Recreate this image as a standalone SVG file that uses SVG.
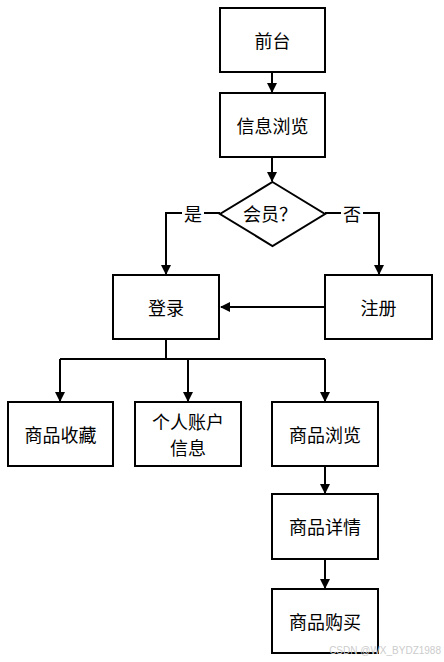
<svg xmlns="http://www.w3.org/2000/svg" width="444" height="662" viewBox="0 0 444 662">
<style>
.box{fill:#fff;stroke:#000;stroke-width:2}
.t{font-family:"Noto Sans CJK SC","Noto Sans CJK JP",sans-serif;font-size:18px;fill:#000;text-anchor:middle;dominant-baseline:central}
.ln{fill:none;stroke:#000;stroke-width:2}
.wm{font-family:"Liberation Sans",sans-serif;font-size:10px;fill:#ccc;text-anchor:end}
</style>
<defs>
<marker id="ah" markerWidth="10" markerHeight="10" refX="9" refY="5" orient="auto" markerUnits="userSpaceOnUse">
<path d="M0,0 L10,5 L0,10 Z" fill="#000"/>
</marker>
</defs>
<rect width="444" height="662" fill="#fff"/>
<g id="connectors">
<path class="ln" d="M272,72 V92" marker-end="url(#ah)"/>
<path class="ln" d="M272,157 V181" marker-end="url(#ah)"/>
<path class="ln" d="M220,213 H166 V274" marker-end="url(#ah)"/>
<path class="ln" d="M325,213 H379 V274" marker-end="url(#ah)"/>
<path class="ln" d="M325,307 H221" marker-end="url(#ah)"/>
<path class="ln" d="M166,339 V359"/>
<path class="ln" d="M60,359 H325"/>
<path class="ln" d="M60,359 V401" marker-end="url(#ah)"/>
<path class="ln" d="M188,359 V401" marker-end="url(#ah)"/>
<path class="ln" d="M325,359 V401" marker-end="url(#ah)"/>
<path class="ln" d="M325,466 V493" marker-end="url(#ah)"/>
<path class="ln" d="M325,559 V588" marker-end="url(#ah)"/>
<rect x="182" y="203" width="22" height="20" fill="#fff"/>
<text class="t" x="193" y="213">是</text>
<rect x="341" y="203" width="22" height="20" fill="#fff"/>
<text class="t" x="352" y="213">否</text>
</g>
<g id="n-qiantai"><rect class="box" x="220" y="8" width="105" height="64"/><text class="t" x="272.5" y="40">前台</text></g>
<g id="n-xinxi"><rect class="box" x="220" y="93" width="105" height="64"/><text class="t" x="272.5" y="125">信息浏览</text></g>
<g id="n-huiyuan"><path class="box" d="M272.5,182 L325,214 L272.5,246 L220,214 Z"/><text class="t" x="270" y="213">会员？</text></g>
<g id="n-denglu"><rect class="box" x="113" y="275" width="106" height="64"/><text class="t" x="166" y="307">登录</text></g>
<g id="n-zhuce"><rect class="box" x="325" y="275" width="107" height="64"/><text class="t" x="378.5" y="307">注册</text></g>
<g id="n-shoucang"><rect class="box" x="8" y="402" width="105" height="64"/><text class="t" x="60.5" y="434">商品收藏</text></g>
<g id="n-zhanghu"><rect class="box" x="135" y="402" width="106" height="64"/><text class="t" x="188" y="421">个人账户</text><text class="t" x="188" y="447">信息</text></g>
<g id="n-liulan"><rect class="box" x="272" y="402" width="106" height="64"/><text class="t" x="325" y="434">商品浏览</text></g>
<g id="n-xiangqing"><rect class="box" x="272" y="494" width="106" height="65"/><text class="t" x="325" y="526">商品详情</text></g>
<g id="n-goumai"><rect class="box" x="272" y="589" width="106" height="64"/><text class="t" x="325" y="621">商品购买</text></g>
<text class="wm" x="441" y="654">CSDN @WX_BYDZ1988</text>
</svg>
